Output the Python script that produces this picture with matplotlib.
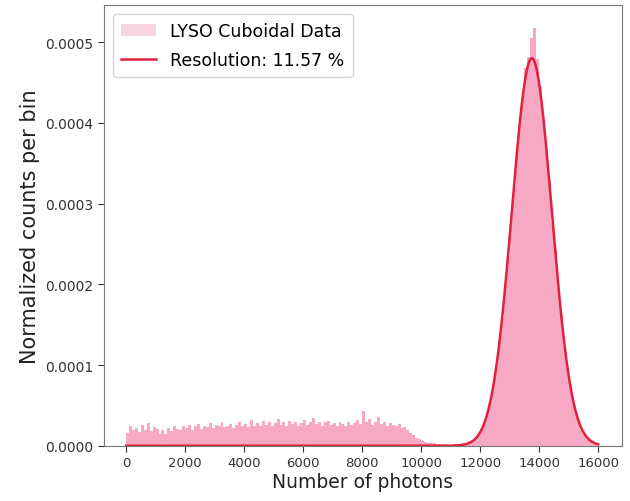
import numpy as np
import matplotlib

matplotlib.use("Agg")

from matplotlib import pyplot as plt  # noqa: E402
from matplotlib.ticker import FormatStrFormatter  # noqa: E402

# Histogram: 100-photon bins from 0 to 16000, heights in units of 1e-5
BIN_WIDTH = 100
BIN_START = 0
COUNTS_E5 = [
    # 0 - 1000
    1.6, 2.4, 1.9, 2.2, 1.7, 2.6, 2.0, 2.8, 1.8, 2.3,
    # 1000 - 2000
    2.1, 1.5, 2.0, 1.4, 2.2, 1.8, 2.5, 2.1, 1.9, 2.4,
    # 2000 - 3000
    2.2, 2.6, 2.0, 2.4, 2.7, 2.1, 2.5, 2.3, 2.8, 2.2,
    # 3000 - 4000
    2.6, 2.4, 2.9, 2.3, 2.5, 2.7, 2.2, 2.6, 3.0, 2.4,
    # 4000 - 5000
    2.7, 2.3, 3.2, 2.5, 2.8, 2.4, 3.1, 2.6, 2.9, 2.5,
    # 5000 - 6000
    2.8, 3.3, 2.6, 2.9, 2.4, 3.1, 2.7, 3.0, 2.5, 2.8,
    # 6000 - 7000
    3.2, 2.6, 2.9, 3.4, 2.7, 3.0, 2.5, 2.9, 3.1, 2.6,
    # 7000 - 8000
    2.8, 2.4, 3.0, 2.7, 2.5, 2.9, 2.6, 2.8, 3.2, 2.7,
    # 8000 - 9000
    4.3, 2.9, 3.3, 2.6, 3.0, 3.6, 2.7, 2.9, 2.5, 2.8,
    # 9000 - 10000
    2.6, 2.4, 2.7, 2.2, 2.3, 1.9, 1.6, 1.3, 1.0, 0.8,
    # 10000 - 11500
    0.6, 0.5, 0.4, 0.35, 0.3, 0.25, 0.2, 0.2, 0.15, 0.15,
    0.15, 0.2, 0.2, 0.25, 0.3,
    # 11500 - 16000 (photopeak)
    0.4, 0.55, 0.75, 1.0, 1.45, 2.1, 3.0, 4.2, 5.5, 7.7,
    9.7, 13.0, 15.8, 20.1, 23.5, 28.4, 32.0, 37.0, 40.8, 43.1,
    46.8, 48.2, 50.5, 51.8, 47.9, 44.6, 40.1, 36.8, 32.9, 27.6,
    24.2, 19.5, 16.3, 12.4, 9.6, 7.6, 5.4, 4.0, 2.8, 1.9,
    1.3, 0.9, 0.55, 0.35, 0.2,
]

# Gaussian fit of the photopeak
FIT_MEAN = 13750.0
FIT_AMPLITUDE = 4.8e-4
RESOLUTION_PCT = 11.57
FIT_RANGE = (0, 16000)

BAR_COLOR = "#f7a9c3"
LINE_COLOR = "#e2203c"

heights = np.array(COUNTS_E5) * 1e-5
edges = BIN_START + BIN_WIDTH * np.arange(len(heights) + 1)

sigma = RESOLUTION_PCT / 100 * FIT_MEAN / 2.355
fit_x = np.linspace(*FIT_RANGE, 800)
fit_y = FIT_AMPLITUDE * np.exp(-0.5 * ((fit_x - FIT_MEAN) / sigma) ** 2)

fig = plt.figure(figsize=(6.3, 5.02), dpi=100)
ax = fig.add_axes([0.165, 0.11, 0.822, 0.878])

ax.stairs(heights, edges, fill=True, color=BAR_COLOR, label="LYSO Cuboidal Data")
ax.plot(fit_x, fit_y, color=LINE_COLOR, linewidth=1.8,
        label=f"Resolution: {RESOLUTION_PCT:.2f} %")

ax.set_xlim(-750, 16800)
ax.set_ylim(0, 0.000546)
ax.set_xticks(np.arange(0, 16001, 2000))
ax.set_yticks(np.arange(0, 0.00051, 0.0001))
ax.yaxis.set_major_formatter(FormatStrFormatter("%.4f"))
ax.tick_params(axis="x", labelsize=9.5, colors="#333333", length=4)
ax.tick_params(axis="y", labelsize=10, colors="#333333", length=4)
for spine in ax.spines.values():
    spine.set_color("#777777")

ax.set_xlabel("Number of photons", fontsize=13.5, color="#222222", labelpad=2)
ax.set_ylabel("Normalized counts per bin", fontsize=15, color="#222222", labelpad=4)
legend = ax.legend(loc="upper left", fontsize=12.5, frameon=True,
                   labelspacing=0.6, borderpad=0.5)
legend.legend_handles[0].set_alpha(0.5)

fig.savefig("out.png", dpi=100)
